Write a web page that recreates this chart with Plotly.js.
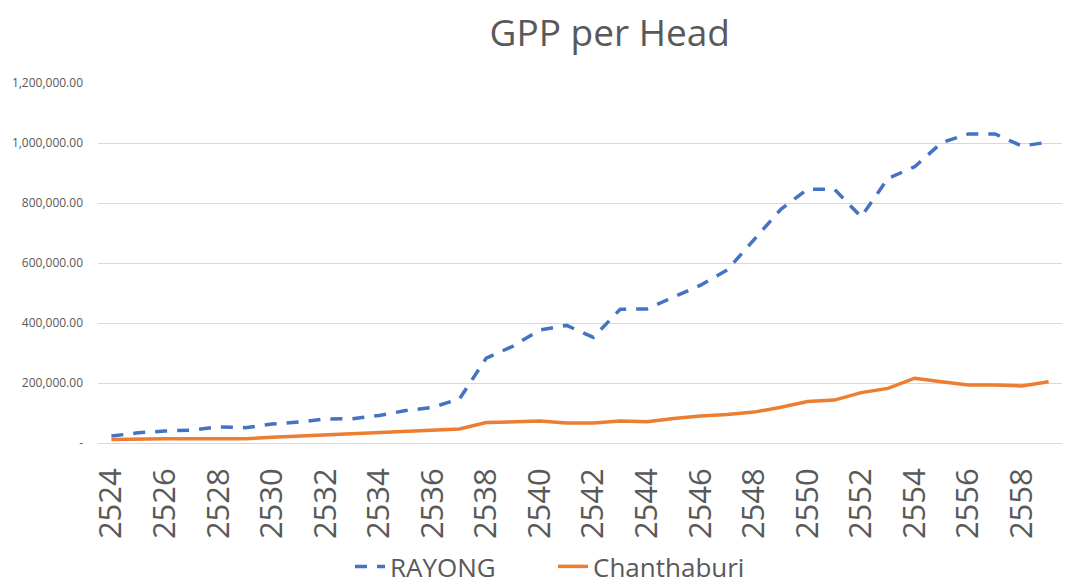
<!DOCTYPE html>
<html>
<head>
<meta charset="utf-8">
<script src="https://cdn.plot.ly/plotly-3.0.1.min.js"></script>
<style>html,body{margin:0;padding:0;background:#fff;}#chart{width:1083px;height:585px;}</style>
</head>
<body>
<div id="chart"></div>
<script>
const years = ["2524","2525","2526","2527","2528","2529","2530","2531","2532","2533","2534","2535","2536","2537","2538","2539","2540","2541","2542","2543","2544","2545","2546","2547","2548","2549","2550","2551","2552","2553","2554","2555","2556","2557","2558","2559"];
const rayong = [23000,34000,40000,43000,54000,51000,63000,70000,80000,81000,92000,108000,119000,147000,283000,323000,377000,392000,352000,446000,447000,488000,526000,577000,679000,779000,846000,846000,754000,882000,921000,1001000,1030000,1030000,990000,1003000];
const chanthaburi = [12000,14000,14000,14000,14000,14000,19000,23000,27000,29000,35000,39000,43000,47000,68000,70000,73000,67000,67000,73000,71000,82000,90000,95000,103000,119000,138000,143000,168000,182000,216000,204000,193000,193000,190000,204000];
const xTickLabels = ["2524","2526","2528","2530","2532","2534","2536","2538","2540","2542","2544","2546","2548","2550","2552","2554","2556","2558"];
const yTickVals = [0,200000,400000,600000,800000,1000000,1200000];
const yTickText = ["-","200,000.00","400,000.00","600,000.00","800,000.00","1,000,000.00","1,200,000.00"];

const FONT = "Open Sans, Noto Sans, sans-serif";
const traces = [
  {x: years, y: rayong, name: "RAYONG", type: "scatter", mode: "lines",
   line: {color: "#4472C4", width: 3.5, dash: "12px,10px"}},
  {x: years, y: chanthaburi, name: "Chanthaburi", type: "scatter", mode: "lines",
   line: {color: "#ED7D31", width: 3.5}}
];
const layout = {
  width: 1083, height: 585,
  paper_bgcolor: "#ffffff", plot_bgcolor: "#ffffff",
  margin: {l: 98, r: 21, t: 83, b: 142, autoexpand: false},
  font: {family: FONT, color: "#595959"},
  title: {text: "GPP per Head", font: {family: FONT, size: 37, color: "#595959"},
          xref: "container", yref: "container", x: 0.563, y: 0.944, xanchor: "center", yanchor: "middle"},
  xaxis: {type: "category", categoryorder: "array", categoryarray: years,
          tickvals: xTickLabels, ticktext: xTickLabels, tickangle: -90,
          tickfont: {family: FONT, size: 31, color: "#595959"},
          showgrid: false, showline: false, zeroline: false, ticks: "", ticklabelstandoff: 18,
          range: [-0.5, years.length - 0.5]},
  yaxis: {range: [0, 1200000], tickvals: yTickVals, ticktext: yTickText,
          tickfont: {family: FONT, size: 12, color: "#595959"},
          showgrid: true, gridcolor: "#D9D9D9", gridwidth: 1, zeroline: true, zerolinecolor: "#D9D9D9", zerolinewidth: 1,
          showline: false, ticks: "", ticklabelstandoff: 14},
  showlegend: true,
  legend: {orientation: "h", x: 0.472, xanchor: "center", y: -0.343, yanchor: "middle",
           entrywidth: 158, entrywidthmode: "pixels", tracegroupgap: 0,
           font: {family: FONT, size: 26, color: "#595959"}, bgcolor: "rgba(0,0,0,0)"}
};
Plotly.newPlot("chart", traces, layout, {displayModeBar: false, staticPlot: true});
</script>
</body>
</html>
